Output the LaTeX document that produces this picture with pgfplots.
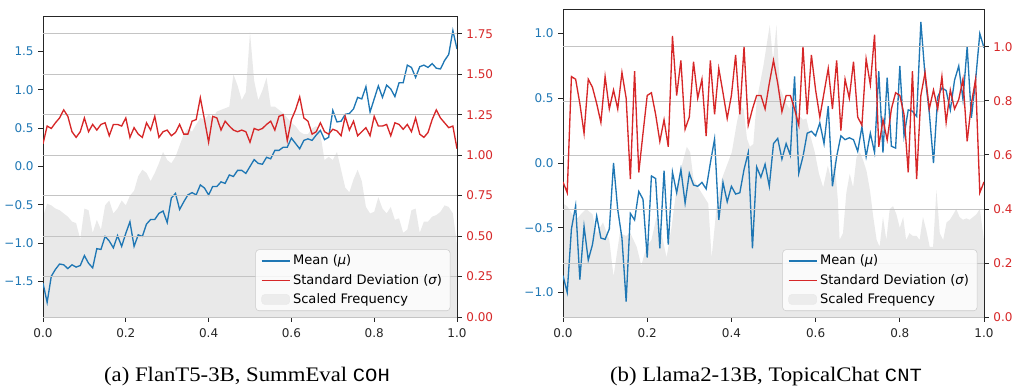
\documentclass[border=0pt]{standalone}
\usepackage{fontspec}
\usepackage{graphicx}
\usepackage{pgfplots}
\pgfplotsset{compat=1.18}
\setmainfont{DejaVu Sans}
\newfontfamily\capserif{Liberation Serif}
\newfontfamily\capmono{Liberation Mono}
\definecolor{tabblue}{HTML}{1F77B4}
\definecolor{tabred}{HTML}{D62728}
\definecolor{freqgray}{RGB}{233,233,233}
\definecolor{gridgray}{RGB}{196,196,196}
\pgfplotsset{
  base/.style={scale only axis, anchor=south west, xmin=0, xmax=1,
    tick align=outside, major tick length=3.5pt,
    tick label style={font=\fontsize{9}{10}\selectfont},
    tick style={black!85, line width=0.6pt},
    axis line style={black!85, line width=0.6pt}},
  leftax/.style={base, tick pos=left,
    xtick={0,0.2,0.4,0.6,0.8,1}, xticklabels={0.0,0.2,0.4,0.6,0.8,1.0},
    xticklabel style={black!85, yshift=-2pt}, yticklabel style={tabblue}},
  rightax/.style={base, axis y line*=right, hide x axis,
    yticklabel style={tabred},
    ymajorgrids, grid style={gridgray, line width=0.5pt},
    legend cell align=left,
    legend image code/.code={\draw[##1] (0pt,0pt) -- (21pt,0pt);},
    legend style={at={(1,0)}, anchor=south east, xshift=-5pt, yshift=4.5pt,
      draw=black!20, fill=white, fill opacity=0.8, text opacity=1, draw opacity=1,
      rounded corners=2.5pt, font=\fontsize{9.8}{11}\selectfont,
      inner xsep=4pt, inner ysep=2pt, row sep=1.5pt,
      /tikz/every even column/.append style={column sep=3pt}}},
  meanline/.style={tabblue, line width=1pt},
  sdline/.style={tabred, line width=1pt},
  freqfill/.style={fill=freqgray, draw=none},
}
\begin{document}
\begin{tikzpicture}
\useasboundingbox (0,0) rectangle (764.25pt,289.5pt);
% ================= Panel (a) =================
\begin{axis}[base, hide axis, at={(32.25pt,51.75pt)}, width=310.5pt, height=225.75pt, ymin=0, ymax=1.86]
\addplot[freqfill] coordinates {
(0.00,0.62)(0.01,0.70)(0.02,0.69)(0.03,0.67)(0.04,0.66)(0.05,0.64)(0.06,0.62)(0.07,0.59)(0.08,0.58)(0.09,0.48)
(0.10,0.67)(0.11,0.66)(0.12,0.52)(0.13,0.60)(0.14,0.54)(0.15,0.69)(0.16,0.72)(0.17,0.64)(0.18,0.67)(0.19,0.72)
(0.20,0.69)(0.21,0.75)(0.22,0.78)(0.23,0.87)(0.24,0.91)(0.25,0.89)(0.26,0.84)(0.27,0.89)(0.28,0.95)(0.29,1.02)
(0.30,0.97)(0.31,0.95)(0.32,0.99)(0.33,1.06)(0.34,1.13)(0.35,1.165)(0.36,1.145)(0.37,1.19)(0.38,1.23)(0.39,1.22)
(0.40,1.25)(0.41,1.23)(0.42,1.27)(0.43,1.28)(0.44,1.29)(0.45,1.30)(0.46,1.50)(0.47,1.43)(0.48,1.34)(0.49,1.39)
(0.50,1.76)(0.51,1.46)(0.52,1.34)(0.53,1.40)(0.54,1.48)(0.55,1.30)(0.56,1.30)(0.57,1.28)(0.58,1.26)(0.59,1.23)
(0.60,1.20)(0.61,1.18)(0.62,1.145)(0.63,1.13)(0.64,1.13)(0.65,1.165)(0.66,1.18)(0.67,1.13)(0.68,0.97)(0.69,0.99)
(0.70,0.97)(0.71,1.02)(0.72,0.91)(0.73,0.80)(0.74,0.77)(0.75,0.85)(0.76,0.91)(0.77,0.84)(0.78,0.68)(0.79,0.64)
(0.80,0.65)(0.81,0.74)(0.82,0.67)(0.83,0.64)(0.84,0.68)(0.85,0.60)(0.86,0.61)(0.87,0.52)(0.88,0.54)(0.89,0.66)
(0.90,0.67)(0.91,0.52)(0.92,0.59)(0.93,0.59)(0.94,0.62)(0.95,0.63)(0.96,0.65)(0.97,0.69)(0.98,0.68)(0.99,0.64)
(1.00,0.45)} \closedcycle;
\end{axis}
\begin{axis}[leftax, at={(32.25pt,51.75pt)}, width=310.5pt, height=225.75pt, ymin=-1.96, ymax=1.96,
  ytick={-1.5,-1,-0.5,0,0.5,1,1.5}, yticklabels={−1.5,−1.0,−0.5,0.0,0.5,1.0,1.5}]
\addplot[meanline] coordinates {
(0.00,-1.52)(0.01,-1.77)(0.02,-1.43)(0.03,-1.34)(0.04,-1.27)(0.05,-1.28)(0.06,-1.33)(0.07,-1.28)(0.08,-1.31)(0.09,-1.29)
(0.10,-1.16)(0.11,-1.26)(0.12,-1.32)(0.13,-1.07)(0.14,-1.08)(0.15,-0.91)(0.16,-0.97)(0.17,-1.06)(0.18,-0.90)(0.19,-1.04)
(0.20,-0.87)(0.21,-0.72)(0.22,-1.04)(0.23,-0.89)(0.24,-0.91)(0.25,-0.75)(0.26,-0.69)(0.27,-0.69)(0.28,-0.61)(0.29,-0.58)
(0.30,-0.73)(0.31,-0.41)(0.32,-0.35)(0.33,-0.56)(0.34,-0.46)(0.35,-0.37)(0.36,-0.34)(0.37,-0.37)(0.38,-0.24)(0.39,-0.28)
(0.40,-0.37)(0.41,-0.26)(0.42,-0.26)(0.43,-0.20)(0.44,-0.22)(0.45,-0.11)(0.46,-0.13)(0.47,-0.05)(0.48,-0.05)(0.49,-0.09)
(0.50,0.00)(0.51,0.09)(0.52,0.04)(0.53,0.03)(0.54,0.12)(0.55,0.10)(0.56,0.21)(0.57,0.21)(0.58,0.25)(0.59,0.25)
(0.60,0.37)(0.61,0.30)(0.62,0.23)(0.63,0.34)(0.64,0.36)(0.65,0.34)(0.66,0.41)(0.67,0.47)(0.68,0.35)(0.69,0.38)
(0.70,0.73)(0.71,0.58)(0.72,0.59)(0.73,0.68)(0.74,0.69)(0.75,0.75)(0.76,0.90)(0.77,0.88)(0.78,1.04)(0.79,0.71)
(0.80,0.88)(0.81,1.05)(0.82,0.90)(0.83,1.06)(0.84,1.01)(0.85,0.91)(0.86,1.09)(0.87,1.09)(0.88,1.32)(0.89,1.29)
(0.90,1.16)(0.91,1.30)(0.92,1.32)(0.93,1.29)(0.94,1.34)(0.95,1.28)(0.96,1.27)(0.97,1.38)(0.98,1.46)(0.99,1.77)
(1.00,1.53)};
\end{axis}
\begin{axis}[rightax, at={(32.25pt,51.75pt)}, width=310.5pt, height=225.75pt, ymin=0, ymax=1.86,
  ytick={0,0.25,0.5,0.75,1,1.25,1.5,1.75}, yticklabels={0.00,0.25,0.50,0.75,1.00,1.25,1.50,1.75}]
\addlegendimage{meanline}
\addlegendentry{Mean (\textit{μ})}
\addplot[sdline] coordinates {
(0.00,1.07)(0.01,1.18)(0.02,1.165)(0.03,1.20)(0.04,1.23)(0.05,1.28)(0.06,1.24)(0.07,1.145)(0.08,1.11)(0.09,1.145)
(0.10,1.23)(0.11,1.145)(0.12,1.19)(0.13,1.155)(0.14,1.19)(0.15,1.20)(0.16,1.12)(0.17,1.19)(0.18,1.19)(0.19,1.18)
(0.20,1.23)(0.21,1.11)(0.22,1.17)(0.23,1.13)(0.24,1.11)(0.25,1.20)(0.26,1.155)(0.27,1.24)(0.28,1.11)(0.29,1.145)
(0.30,1.155)(0.31,1.12)(0.32,1.14)(0.33,1.19)(0.34,1.13)(0.35,1.13)(0.36,1.21)(0.37,1.22)(0.38,1.355)(0.39,1.22)
(0.40,1.08)(0.41,1.24)(0.42,1.23)(0.43,1.155)(0.44,1.21)(0.45,1.18)(0.46,1.155)(0.47,1.145)(0.48,1.155)(0.49,1.145)
(0.50,1.08)(0.51,1.165)(0.52,1.155)(0.53,1.165)(0.54,1.19)(0.55,1.21)(0.56,1.155)(0.57,1.24)(0.58,1.25)(0.59,1.09)
(0.60,1.22)(0.61,1.28)(0.62,1.36)(0.63,1.23)(0.64,1.21)(0.65,1.13)(0.66,1.145)(0.67,1.20)(0.68,1.145)(0.69,1.13)
(0.70,1.16)(0.71,1.15)(0.72,1.12)(0.73,1.24)(0.74,1.155)(0.75,1.21)(0.76,1.12)(0.77,1.145)(0.78,1.17)(0.79,1.12)
(0.80,1.24)(0.81,1.18)(0.82,1.18)(0.83,1.19)(0.84,1.12)(0.85,1.20)(0.86,1.19)(0.87,1.16)(0.88,1.19)(0.89,1.145)
(0.90,1.23)(0.91,1.13)(0.92,1.11)(0.93,1.14)(0.94,1.22)(0.95,1.28)(0.96,1.23)(0.97,1.20)(0.98,1.17)(0.99,1.18)
(1.00,1.04)};
\addlegendentry{Standard Deviation (\textit{σ})}
\addlegendimage{legend image code/.code={\fill[freqgray] (0pt,-3.75pt) rectangle (21pt,3.75pt);}}
\addlegendentry{Scaled Frequency}
\end{axis}
% ================= Panel (b) =================
\begin{axis}[base, hide axis, at={(422.25pt,51.75pt)}, width=315.75pt, height=231pt, ymin=0, ymax=1.14]
\addplot[freqfill] coordinates {
(0.00,0.42)(0.01,0.41)(0.03,0.36)(0.055,0.40)(0.07,0.38)(0.08,0.31)(0.095,0.35)(0.11,0.285)(0.12,0.15)(0.135,0.31)
(0.15,0.30)(0.16,0.31)(0.175,0.26)(0.186,0.19)(0.198,0.26)(0.21,0.285)(0.222,0.37)(0.234,0.31)(0.246,0.22)(0.258,0.335)
(0.27,0.48)(0.282,0.56)(0.294,0.63)(0.302,0.61)(0.31,0.51)(0.321,0.48)(0.333,0.45)(0.345,0.42)(0.353,0.22)(0.365,0.41)
(0.377,0.51)(0.389,0.56)(0.401,0.61)(0.413,0.72)(0.421,0.78)(0.429,0.77)(0.437,0.66)(0.444,0.63)(0.452,0.64)(0.46,0.80)
(0.468,0.865)(0.476,0.93)(0.491,1.08)(0.499,0.95)(0.507,1.08)(0.515,0.85)(0.527,0.80)(0.538,0.77)(0.546,0.85)(0.558,0.75)
(0.570,0.73)(0.578,0.735)(0.586,0.68)(0.598,0.61)(0.608,0.53)(0.618,0.48)(0.629,0.56)(0.637,0.51)(0.645,0.58)(0.653,0.43)
(0.657,0.285)(0.665,0.31)(0.673,0.46)(0.681,0.53)(0.689,0.48)(0.697,0.59)(0.705,0.61)(0.713,0.58)(0.721,0.54)(0.729,0.47)
(0.737,0.37)(0.745,0.285)(0.752,0.26)(0.760,0.37)(0.768,0.285)(0.776,0.40)(0.784,0.41)(0.792,0.38)(0.800,0.33)(0.808,0.37)
(0.815,0.285)(0.823,0.31)(0.831,0.30)(0.840,0.30)(0.847,0.285)(0.855,0.37)(0.863,0.32)(0.871,0.26)(0.879,0.26)(0.887,0.47)
(0.895,0.31)(0.903,0.285)(0.911,0.35)(0.919,0.36)(0.927,0.38)(0.934,0.40)(0.942,0.37)(0.950,0.36)(0.958,0.365)(0.966,0.36)
(0.974,0.37)(0.982,0.38)(0.990,0.40)(1.00,0.285)} \closedcycle;
\end{axis}
\begin{axis}[leftax, at={(422.25pt,51.75pt)}, width=315.75pt, height=231pt, ymin=-1.19, ymax=1.19,
  ytick={-1,-0.5,0,0.5,1}, yticklabels={−1.0,−0.5,0.0,0.5,1.0}]
\addplot[meanline] coordinates {
(0.00,-0.87)(0.01,-1.00)(0.02,-0.51)(0.03,-0.33)(0.04,-0.90)(0.05,-0.49)(0.06,-0.75)(0.07,-0.63)(0.08,-0.41)(0.09,-0.58)
(0.10,-0.59)(0.11,-0.51)(0.12,0.00)(0.13,-0.36)(0.14,-0.58)(0.15,-1.07)(0.16,-0.39)(0.17,-0.44)(0.18,-0.22)(0.19,-0.28)
(0.20,-0.73)(0.21,-0.10)(0.22,-0.12)(0.23,-0.66)(0.24,-0.06)(0.25,-0.63)(0.26,-0.07)(0.27,-0.23)(0.28,-0.05)(0.29,-0.31)
(0.30,-0.08)(0.31,-0.17)(0.32,-0.18)(0.33,-0.15)(0.34,-0.20)(0.35,0.00)(0.36,0.185)(0.37,-0.44)(0.38,-0.15)(0.39,-0.30)
(0.40,-0.18)(0.41,-0.24)(0.42,-0.23)(0.43,-0.05)(0.44,0.08)(0.45,-0.66)(0.46,-0.03)(0.47,-0.11)(0.48,-0.01)(0.49,-0.18)
(0.50,0.15)(0.51,0.19)(0.52,0.03)(0.53,0.15)(0.54,0.06)(0.55,0.67)(0.56,-0.08)(0.57,0.05)(0.58,0.23)(0.59,0.245)
(0.60,0.21)(0.61,0.31)(0.62,0.15)(0.63,0.44)(0.64,-0.18)(0.65,0.05)(0.66,0.21)(0.67,0.18)(0.68,0.195)(0.69,0.18)
(0.70,0.09)(0.71,0.28)(0.72,0.05)(0.73,0.23)(0.74,0.08)(0.75,0.71)(0.76,0.08)(0.77,0.66)(0.78,0.13)(0.79,0.115)
(0.80,0.75)(0.81,0.21)(0.82,0.41)(0.83,0.40)(0.84,0.36)(0.85,1.09)(0.86,0.67)(0.87,0.39)(0.88,0.00)(0.89,0.51)
(0.90,0.58)(0.91,0.56)(0.92,0.41)(0.93,0.64)(0.94,0.75)(0.95,0.49)(0.96,0.90)(0.97,0.35)(0.98,0.64)(0.99,1.00)
(1.00,0.89)};
\end{axis}
\begin{axis}[rightax, at={(422.25pt,51.75pt)}, width=315.75pt, height=231pt, ymin=0, ymax=1.14,
  ytick={0,0.2,0.4,0.6,0.8,1}, yticklabels={0.0,0.2,0.4,0.6,0.8,1.0}]
\addlegendimage{meanline}
\addlegendentry{Mean (\textit{μ})}
\addplot[sdline] coordinates {
(0.00,0.50)(0.01,0.46)(0.02,0.89)(0.03,0.88)(0.04,0.79)(0.05,0.68)(0.06,0.88)(0.07,0.85)(0.08,0.79)(0.09,0.72)
(0.10,0.89)(0.11,0.77)(0.12,0.84)(0.13,0.77)(0.14,0.905)(0.15,0.81)(0.16,0.51)(0.17,0.91)(0.18,0.535)(0.19,0.68)
(0.20,0.82)(0.21,0.83)(0.22,0.75)(0.23,0.65)(0.24,0.73)(0.25,0.63)(0.26,1.04)(0.27,0.82)(0.28,0.95)(0.29,0.695)
(0.30,0.74)(0.31,0.945)(0.32,0.81)(0.33,0.88)(0.34,0.67)(0.35,0.95)(0.36,0.75)(0.37,0.92)(0.38,0.83)(0.39,0.735)
(0.40,0.82)(0.41,0.97)(0.42,0.75)(0.43,1.00)(0.44,0.71)(0.45,0.77)(0.46,0.82)(0.47,0.82)(0.48,0.77)(0.49,0.865)
(0.50,0.95)(0.51,0.865)(0.52,0.76)(0.53,0.82)(0.54,0.82)(0.55,0.77)(0.56,0.71)(0.57,1.00)(0.58,0.75)(0.59,0.97)
(0.60,0.84)(0.61,0.74)(0.62,0.83)(0.63,0.92)(0.64,0.77)(0.65,0.95)(0.66,0.69)(0.67,0.88)(0.68,0.81)(0.69,0.945)
(0.70,0.74)(0.71,0.71)(0.72,0.955)(0.73,0.86)(0.74,1.045)(0.75,0.63)(0.76,0.73)(0.77,0.655)(0.78,0.77)(0.79,0.83)
(0.80,0.82)(0.81,0.75)(0.82,0.535)(0.83,0.91)(0.84,0.51)(0.85,0.82)(0.86,0.905)(0.87,0.77)(0.88,0.84)(0.89,0.77)
(0.90,0.89)(0.91,0.72)(0.92,0.84)(0.93,0.77)(0.94,0.805)(0.95,0.88)(0.96,0.65)(0.97,0.79)(0.98,0.88)(0.99,0.46)
(1.00,0.50)};
\addlegendentry{Standard Deviation (\textit{σ})}
\addlegendimage{legend image code/.code={\fill[freqgray] (0pt,-3.75pt) rectangle (21pt,3.75pt);}}
\addlegendentry{Scaled Frequency}
\end{axis}
% ================= Captions =================
\node[anchor=base, inner sep=0pt] at (185.25pt,3.2pt) {\scalebox{1.1}[1]{\capserif\fontsize{15.5}{17}\selectfont (a) FlanT5-3B, SummEval {\capmono\fontsize{14}{16}\selectfont COH}}};
\node[anchor=base, inner sep=0pt] at (574.5pt,3.2pt) {\scalebox{1.1}[1]{\capserif\fontsize{15.5}{17}\selectfont (b) Llama2-13B, TopicalChat {\capmono\fontsize{14}{16}\selectfont CNT}}};
\end{tikzpicture}
\end{document}
